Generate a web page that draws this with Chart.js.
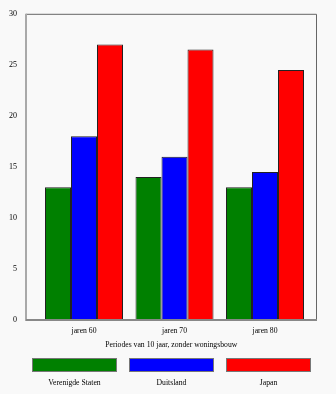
<!DOCTYPE html>
<html>
<head>
<meta charset="utf-8">
<script src="https://cdn.jsdelivr.net/npm/chart.js@4/dist/chart.umd.min.js"></script>
<style>
  html, body { margin: 0; padding: 0; background: #f9f9f9; }
  #wrap { width: 336px; height: 394px; position: relative; }
</style>
</head>
<body>
<div id="wrap"><canvas id="c" width="336" height="394"></canvas></div>
<script>
const categories = ['jaren 60', 'jaren 70', 'jaren 80'];
const seriesNames = ['Verenigde Staten', 'Duitsland', 'Japan'];
const usaValues = [13, 14, 13];
const germanyValues = [18, 16, 14.5];
const japanValues = [27, 26.5, 24.5];
const yTicks = [0, 5, 10, 15, 20, 25, 30];
const xTitle = 'Periodes van 10 jaar, zonder woningsbouw';
const seriesColors = ['#008000', '#0000ff', '#ff0000'];

const FONT = '"Liberation Serif", "Times New Roman", serif';
const FS = 7.7;

function toPoints(vals) { return vals.map((v, i) => ({ x: i, y: v })); }

const allSeries = [usaValues, germanyValues, japanValues];

const framePlugin = {
  id: 'frame',
  beforeDraw(chart) {
    const ctx = chart.ctx;
    ctx.save();
    ctx.fillStyle = '#f9f9f9';
    ctx.fillRect(0, 0, chart.width, chart.height);
    ctx.restore();
  },
  afterDatasetsDraw(chart) {
    const { ctx, chartArea: a } = chart;
    ctx.save();
    ctx.strokeStyle = '#666';
    ctx.lineWidth = 1;
    ctx.beginPath();
    ctx.moveTo(a.left, a.top + 0.5);
    ctx.lineTo(a.right, a.top + 0.5);
    ctx.lineTo(a.right, a.bottom);
    ctx.stroke();
    ctx.strokeStyle = '#a9a9a9';
    ctx.lineWidth = 2;
    ctx.beginPath();
    ctx.moveTo(a.left, a.top);
    ctx.lineTo(a.left, a.bottom + 1);
    ctx.stroke();
    ctx.strokeStyle = '#888';
    ctx.lineWidth = 2;
    ctx.beginPath();
    ctx.moveTo(a.left, a.bottom);
    ctx.lineTo(a.right + 0.5, a.bottom);
    ctx.stroke();
    ctx.restore();
  },
  afterDraw(chart) {
    const { ctx, chartArea: a } = chart;
    const n = chart.data.datasets.length;
    const boxW = 85, boxH = 14, gap = 12;
    const total = n * boxW + (n - 1) * gap;
    const cx = (a.left + a.right) / 2;
    let x = Math.round(cx - total / 2);
    const y = 358;
    ctx.save();
    chart.data.datasets.forEach((ds) => {
      ctx.fillStyle = ds.backgroundColor;
      ctx.fillRect(x, y, boxW, boxH);
      ctx.strokeStyle = '#777';
      ctx.lineWidth = 1;
      ctx.strokeRect(x + 0.5, y + 0.5, boxW - 1, boxH - 1);
      ctx.fillStyle = '#000';
      ctx.font = FS + 'px ' + FONT;
      ctx.textAlign = 'center';
      ctx.textBaseline = 'middle';
      ctx.fillText(ds.label, x + boxW / 2, 383);
      x += boxW + gap;
    });
    ctx.restore();
  }
};

new Chart(document.getElementById('c'), {
  type: 'bar',
  data: {
    datasets: seriesNames.map((name, i) => ({
      label: name,
      data: toPoints(allSeries[i]),
      backgroundColor: seriesColors[i],
      borderColor: '#222',
      borderWidth: 1,
      barPercentage: 1,
      categoryPercentage: 0.862
    }))
  },
  options: {
    responsive: false,
    animation: false,
    devicePixelRatio: 1,
    layout: { padding: { top: 10.5, right: 19.5, bottom: 0, left: 0 } },
    plugins: { legend: { display: false }, tooltip: { enabled: false } },
    scales: {
      x: {
        type: 'linear',
        offset: false,
        min: -0.641,
        max: 2.569,
        grid: { display: false, drawTicks: false, offset: false },
        border: { display: false },
        afterBuildTicks(scale) { scale.ticks = categories.map((_, i) => ({ value: i })); },
        afterFit(scale) { scale.height = 74; },
        ticks: {
          padding: 6,
          autoSkip: false,
          maxRotation: 0,
          color: '#000',
          font: { family: FONT, size: FS },
          callback: (v) => categories[v] !== undefined ? categories[v] : ''
        },
        title: {
          display: true,
          text: xTitle,
          color: '#000',
          font: { family: FONT, size: FS },
          padding: { top: 0, bottom: 44.6 }
        }
      },
      y: {
        min: yTicks[0],
        max: yTicks[yTicks.length - 1],
        grid: { display: false, drawTicks: false },
        border: { display: false },
        afterBuildTicks(scale) { scale.ticks = yTicks.map(v => ({ value: v })); },
        afterFit(scale) { scale.width = 26; },
        ticks: {
          padding: 9,
          color: '#000',
          font: { family: FONT, size: 8 }
        }
      }
    }
  },
  plugins: [framePlugin]
});
</script>
</body>
</html>
